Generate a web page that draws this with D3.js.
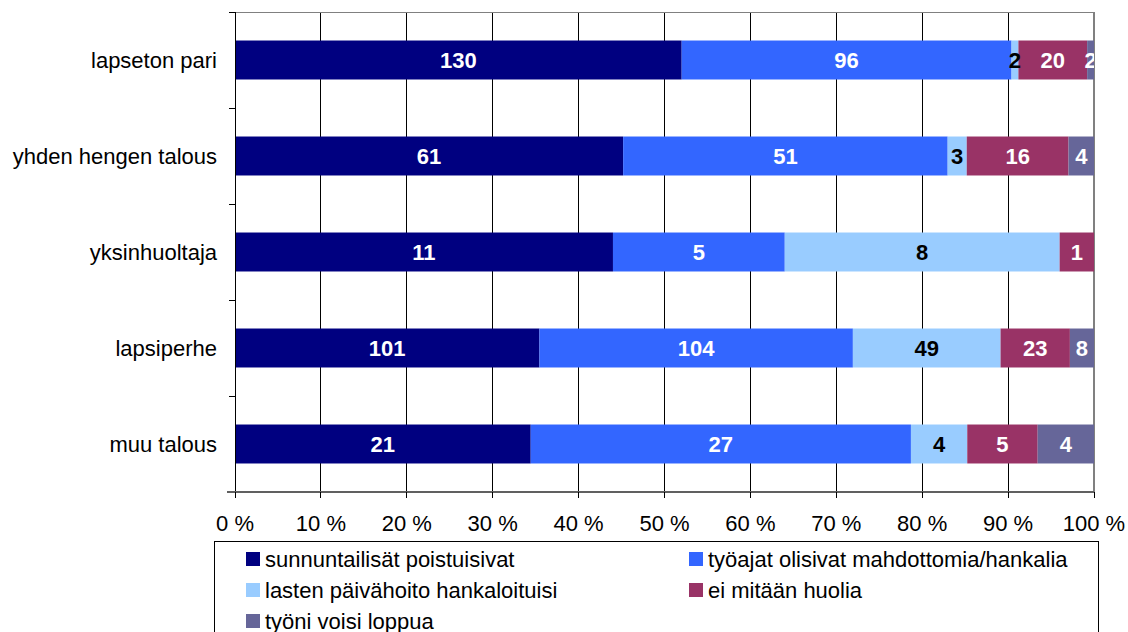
<!DOCTYPE html>
<html><head><meta charset="utf-8">
<script src="https://cdn.jsdelivr.net/npm/d3@7"></script>
<style>body{margin:0;background:#fff}svg{display:block;font-family:"Liberation Sans",Arial,sans-serif}</style>
</head><body>
<svg id="c" width="1128" height="632"></svg>
<script>
const categories = ["lapseton pari","yhden hengen talous","yksinhuoltaja","lapsiperhe","muu talous"];
const seriesNames = ["sunnuntailisät poistuisivat","työajat olisivat mahdottomia/hankalia","lasten päivähoito hankaloituisi","ei mitään huolia","työni voisi loppua"];
const sunnuntailisat = [130, 61, 11, 101, 21];
const tyoajat = [96, 51, 5, 104, 27];
const paivahoito = [2, 3, 8, 49, 4];
const eiHuolia = [20, 16, 1, 23, 5];
const tyoLoppuu = [2, 4, 0, 8, 4];
const xTickLabels = ["0 %","10 %","20 %","30 %","40 %","50 %","60 %","70 %","80 %","90 %","100 %"];
const colors = ["#000080","#3366FF","#99CCFF","#993366","#666699"];
const labelColors = ["#fff","#fff","#000","#fff","#fff"];

const seriesVals = [sunnuntailisat, tyoajat, paivahoito, eiHuolia, tyoLoppuu];
const rows = categories.map((c,i)=>{ const r={cat:c}; seriesNames.forEach((s,j)=>r[s]=seriesVals[j][i]); return r;});
const stacked = d3.stack().keys(seriesNames).offset(d3.stackOffsetExpand)(rows);

const svg = d3.select("#c");
const L=235, R=1094, T=12, B=492;
const x = d3.scaleLinear().domain([0,1]).range([L,R]);
const y = d3.scaleBand().domain(categories).range([T,B]).paddingInner(0.594).paddingOuter(0.297);

svg.append("defs").append("clipPath").attr("id","pc").append("rect").attr("x",L).attr("y",T).attr("width",R-L).attr("height",B-T);

// gridlines
const ticks = d3.range(0,11).map(d=>d/10);
svg.append("g").selectAll("line").data(ticks.slice(1,10)).join("line")
  .attr("x1",d=>x(d)).attr("x2",d=>x(d)).attr("y1",T).attr("y2",B)
  .attr("stroke","#000").attr("stroke-width",1).attr("shape-rendering","crispEdges");
// top & right border
svg.append("line").attr("x1",L).attr("x2",R).attr("y1",T).attr("y2",T).attr("stroke","#808080").attr("shape-rendering","crispEdges");
svg.append("line").attr("x1",R).attr("x2",R).attr("y1",T).attr("y2",B).attr("stroke","#808080").attr("stroke-width",2).attr("shape-rendering","crispEdges");

// bars
const g = svg.append("g").attr("clip-path","url(#pc)");
stacked.forEach((s,j)=>{
  g.append("g").selectAll("rect").data(s).join("rect")
    .attr("x",d=>x(d[0])).attr("width",d=>x(d[1])-x(d[0]))
    .attr("y",d=>y(d.data.cat)).attr("height",y.bandwidth())
    .attr("fill",colors[j]);
});
stacked.forEach((s,j)=>{
  g.append("g").selectAll("text").data(s.filter(d=>d.data[seriesNames[j]]>0)).join("text")
    .attr("x",d=>(x(d[0])+x(d[1]))/2).attr("y",d=>y(d.data.cat)+y.bandwidth()/2)
    .attr("dy","0.36em").attr("text-anchor","middle")
    .attr("font-size",22).attr("font-weight","bold").attr("fill",labelColors[j])
    .text(d=>d.data[seriesNames[j]]);
});

// y axis
svg.append("line").attr("x1",L).attr("x2",L).attr("y1",T).attr("y2",B).attr("stroke","#000").attr("shape-rendering","crispEdges");
const bounds = categories.map(c=>y(c)-y.step()*y.paddingInner()/2).concat([B]);
svg.append("g").selectAll("line").data(bounds).join("line")
  .attr("x1",L-6).attr("x2",L).attr("y1",d=>Math.round(d)).attr("y2",d=>Math.round(d))
  .attr("stroke","#000").attr("shape-rendering","crispEdges");
svg.append("g").selectAll("text").data(categories).join("text")
  .attr("x",217).attr("y",d=>y(d)+y.bandwidth()/2).attr("dy","0.35em")
  .attr("text-anchor","end").attr("font-size",22).attr("fill","#000").text(d=>d);

// x axis
svg.append("line").attr("x1",227).attr("x2",R).attr("y1",B).attr("y2",B).attr("stroke","#606060").attr("stroke-width",2).attr("shape-rendering","crispEdges");
svg.append("g").selectAll("line").data(ticks).join("line")
  .attr("x1",d=>x(d)).attr("x2",d=>x(d)).attr("y1",B).attr("y2",B+6)
  .attr("stroke","#000").attr("shape-rendering","crispEdges");
svg.append("g").selectAll("text").data(ticks).join("text")
  .attr("x",d=>x(d)).attr("y",531).attr("text-anchor","middle")
  .attr("font-size",22).attr("fill","#000").text((d,i)=>xTickLabels[i]);

// legend
svg.append("rect").attr("x",214.5).attr("y",541.5).attr("width",884).attr("height",100)
  .attr("fill","#fff").attr("stroke","#000").attr("stroke-width",1);
const legPos = [[246,559],[689,559],[246,590],[689,590],[246,621]];
const lg = svg.append("g").selectAll("g").data(seriesNames).join("g")
  .attr("transform",(d,i)=>`translate(${legPos[i][0]},${legPos[i][1]})`);
lg.append("rect").attr("x",0).attr("y",-7).attr("width",14).attr("height",14).attr("fill",(d,i)=>colors[i]);
lg.append("text").attr("x",19).attr("y",0).attr("dy","0.35em").attr("font-size",22).attr("fill","#000").text(d=>d);
</script>
</body></html>
